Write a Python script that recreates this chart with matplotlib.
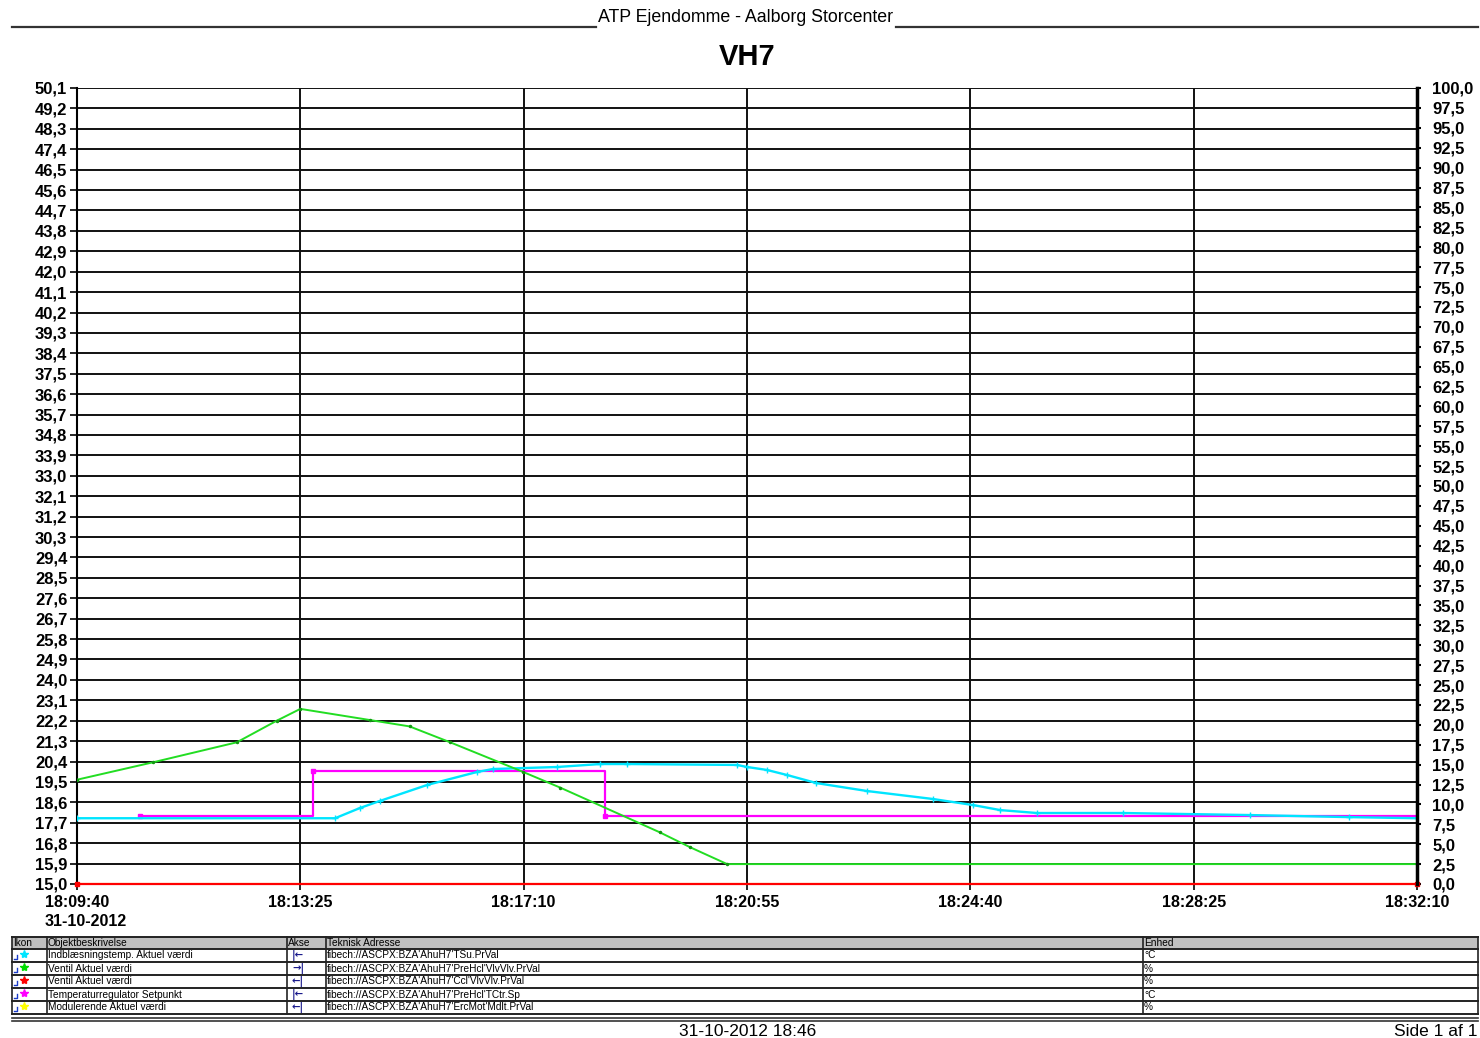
import matplotlib
matplotlib.use("Agg")
import matplotlib.pyplot as plt
import numpy as np

plt.rcParams['font.family'] = ['Liberation Sans', 'DejaVu Sans']

# --- data ---
start_time = "18:09:40"
end_time = "18:32:10"
x_tick_labels = ["18:09:40", "18:13:25", "18:17:10", "18:20:55",
                 "18:24:40", "18:28:25", "18:32:10"]
date_label = "31-10-2012"

# Indblæsningstemp. (°C, left axis)
supply_times = ["18:09:40", "18:14:00", "18:14:25", "18:14:45", "18:15:33",
                "18:16:23", "18:16:39", "18:17:44", "18:18:27", "18:18:54",
                "18:20:45", "18:20:55", "18:21:15", "18:21:35", "18:22:05",
                "18:22:56", "18:24:02", "18:24:43", "18:25:10", "18:25:47",
                "18:27:14", "18:29:22", "18:31:01", "18:32:10"]
supply_vals = [17.9, 17.9, 18.35, 18.66, 19.37, 19.94, 20.07, 20.16, 20.29,
               20.29, 20.25, 20.16, 20.03, 19.81, 19.45, 19.10, 18.75, 18.48,
               18.26, 18.13, 18.13, 18.04, 17.95, 17.9]

# Ventil (green, %, right axis)
valve_times = ["18:09:40", "18:10:57", "18:12:21", "18:13:01", "18:13:25",
               "18:14:35", "18:15:15", "18:15:56", "18:17:09", "18:17:47",
               "18:19:27", "18:19:58", "18:20:35", "18:32:10"]
valve_vals = [13.1, 15.3, 17.8, 20.5, 22.0, 20.6, 19.8, 17.8, 14.1, 12.1,
              6.5, 4.6, 2.5, 2.5]

# Ventil (red, %, right axis)
valve2_times = ["18:09:40", "18:32:10"]
valve2_vals = [0.0, 0.0]

# Temperaturregulator setpunkt (°C, left axis)
setpoint_times = ["18:10:43", "18:13:38", "18:18:32", "18:32:10"]
setpoint_vals = [18.0, 20.0, 18.0, 18.0]

# Modulerende (yellow, %, right axis) - hidden under red
mod_times = ["18:09:40", "18:32:10"]
mod_vals = [0.0, 0.0]

left_min, left_max, left_n = 15.0, 50.1, 40
right_min, right_max, right_n = 0.0, 100.0, 41

table_header = ["Ikon", "Objektbeskrivelse", "Akse", "Teknisk Adresse", "Enhed"]
table_desc = ["Indblæsningstemp. Aktuel værdi", "Ventil Aktuel værdi",
              "Ventil Aktuel værdi", "Temperaturregulator Setpunkt",
              "Modulerende Aktuel værdi"]
table_axis = ["|←", "→|", "←|", "|←", "←|"]
table_addr = ["fibech://ASCPX:BZA'AhuH7'TSu.PrVal",
              "fibech://ASCPX:BZA'AhuH7'PreHcl'VlvVlv.PrVal",
              "fibech://ASCPX:BZA'AhuH7'Ccl'VlvVlv.PrVal",
              "fibech://ASCPX:BZA'AhuH7'PreHcl'TCtr.Sp",
              "fibech://ASCPX:BZA'AhuH7'ErcMot'Mdlt.PrVal"]
table_unit = ["°C", "%", "%", "°C", "%"]
table_colors = ["#00e5ff", "#00dd00", "#ff0000", "#ff00ff", "#ffff00"]


def secs(hms):
    h, m, s = map(int, hms.split(":"))
    h0, m0, s0 = map(int, start_time.split(":"))
    return (h * 3600 + m * 60 + s) - (h0 * 3600 + m0 * 60 + s0)


W, H = 1480, 1038
fig = plt.figure(figsize=(W / 100, H / 100), dpi=100)

# page overlay in pixel coords
page = fig.add_axes([0, 0, 1, 1])
page.set_xlim(0, W)
page.set_ylim(H, 0)
page.axis("off")

ax = fig.add_axes([77 / W, 1 - 884 / H, 1340 / W, 796 / H])
ax2 = ax.twinx()

t_end = secs(end_time)
ax.set_xlim(0, t_end)
ax.set_ylim(left_min, left_max)
ax2.set_ylim(right_min, right_max)

left_ticks = np.linspace(left_min, left_max, left_n)
right_ticks = np.linspace(right_min, right_max, right_n)
x_ticks = [secs(t) for t in x_tick_labels]

ax.set_yticks(left_ticks)
ax.set_yticklabels([f"{v:.1f}".replace(".", ",") for v in left_ticks],
                   fontsize=12, fontweight="bold")
ax2.set_yticks(right_ticks)
ax2.set_yticklabels([f"{v:.1f}".replace(".", ",") for v in right_ticks],
                    fontsize=12, fontweight="bold")
ax.set_xticks(x_ticks)
ax.set_xticklabels(x_tick_labels, fontsize=11.5, fontweight="bold")
ax.tick_params(axis="x", length=4, width=1.2, pad=4)
ax.tick_params(axis="y", length=5, width=1.2, pad=2)
ax2.tick_params(axis="y", length=3, width=1.5, pad=8)

ax.grid(True, color="#111111", linewidth=1.4)
ax.set_axisbelow(True)
for side in ["top"]:
    ax.spines[side].set_visible(False)
    ax2.spines[side].set_visible(False)
ax.spines["left"].set_linewidth(1.5)
ax2.spines["left"].set_visible(False)
ax2.spines["right"].set_linewidth(2.5)
ax.spines["right"].set_visible(False)
ax2.spines["bottom"].set_visible(False)
ax.spines["bottom"].set_visible(False)

# series
ax.plot([secs(t) for t in setpoint_times], setpoint_vals, color="#ff00ff",
        linewidth=1.6, drawstyle="steps-post", zorder=3)
ax.plot([secs(t) for t in setpoint_times][:3], setpoint_vals[:3], linestyle="none",
        marker="s", markersize=2.5, color="#ff00ff", zorder=3)
ax.plot([secs(t) for t in supply_times], supply_vals, color="#00e5ff",
        linewidth=1.7, marker="+", markersize=4, zorder=4)
ax2.plot([secs(t) for t in mod_times], mod_vals, color="#ffff00", linewidth=1.5)
ax2.plot([secs(t) for t in valve_times], valve_vals, color="#22dd22",
         linewidth=1.4, marker=".", markersize=3, markerfacecolor="#119911",
         markeredgecolor="#119911")
ax2.plot([secs(t) for t in valve2_times], valve2_vals, color="#ff0000",
         linewidth=1.6, marker="s", markersize=2.5, clip_on=False)

# header
page.text(746, 17, "ATP Ejendomme - Aalborg Storcenter", fontsize=12.8,
          ha="center", va="center")
page.plot([12, 596], [27, 27], color="#333333", linewidth=1.6)
page.plot([896, 1478], [27, 27], color="#333333", linewidth=1.6)
page.text(747, 57, "VH7", fontsize=21, fontweight="bold", ha="center", va="center")
page.text(45, 922, date_label, fontsize=11.5, ha="left", va="center",
          fontweight="bold")

# legend table
col_x = [12, 47, 287, 326, 1143, 1478]
row_y = [937, 949, 962, 975, 988, 1001, 1014]
page.fill_between([12, 1478], 937, 949, color="#c0c0c0", linewidth=0)
for y in row_y:
    page.plot([12, 1478], [y, y], color="#222222", linewidth=1.4)
for x in col_x:
    page.plot([x, x], [937, 1014], color="#222222", linewidth=1.2)
tfs = 7.3
for i, lab in enumerate(table_header):
    page.text(col_x[i] + 1, 943, lab, fontsize=tfs, va="center", ha="left")
for r in range(5):
    yc = (row_y[r + 1] + row_y[r + 2]) / 2
    page.plot([14, 17, 17], [yc + 3, yc + 3, yc - 1], color="#1a3cc8", linewidth=1)
    page.plot([24], [yc - 2], marker="*", markersize=6, color=table_colors[r],
              markeredgecolor=table_colors[r])
    page.text(48, yc, table_desc[r], fontsize=tfs, va="center", ha="left")
    page.text(292, yc, table_axis[r], fontsize=tfs, va="center", ha="left",
              color="#1a1a8c", family="DejaVu Sans", fontweight="bold")
    page.text(327, yc, table_addr[r], fontsize=tfs, va="center", ha="left")
    page.text(1144, yc, table_unit[r], fontsize=tfs, va="center", ha="left")

page.plot([12, 1478], [1018, 1018], color="#333333", linewidth=1.2)
page.plot([12, 1478], [1021, 1021], color="#333333", linewidth=1.2)

# footer
page.text(748, 1031, "31-10-2012 18:46", fontsize=12.5, ha="center", va="center")
page.text(1477, 1031, "Side 1 af 1", fontsize=12.5, ha="right", va="center")

fig.savefig("out.png", dpi=100)
